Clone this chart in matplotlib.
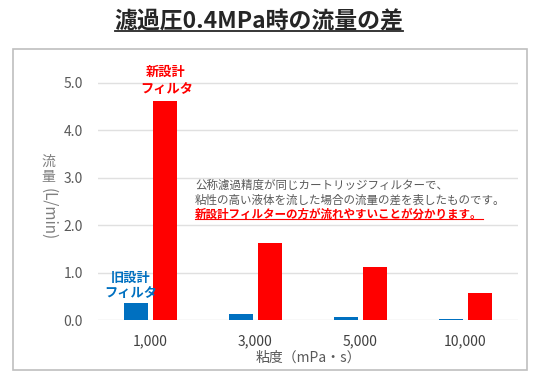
import matplotlib
matplotlib.use("Agg")
import matplotlib.pyplot as plt
from matplotlib.patches import Rectangle
from matplotlib.lines import Line2D
import numpy as np

plt.rcParams['font.family'] = ['Noto Sans CJK JP', 'DejaVu Sans']

categories = ["1,000", "3,000", "5,000", "10,000"]
old_filter = [0.35, 0.13, 0.06, 0.03]
new_filter = [4.61, 1.62, 1.12, 0.57]
yticks = [0.0, 1.0, 2.0, 3.0, 4.0, 5.0]

blue = "#0070C0"
red = "#FF0000"
gray = "#595959"

W, H = 544, 387
fig = plt.figure(figsize=(W / 100, H / 100), dpi=100)


def fx(px):
    return px / W


def fy(py):
    return 1 - py / H


# outer frame
fig.patches.append(Rectangle((fx(13), fy(370)), fx(527) - fx(13), fy(49) - fy(370),
                             transform=fig.transFigure, fill=False,
                             edgecolor="#BFBFBF", lw=1.2))

ax = fig.add_axes([fx(98), fy(320), fx(518) - fx(98), fy(59) - fy(320)])
x = np.arange(len(categories))
w = 0.23
ax.bar(x - 0.135, old_filter, w, color=blue, zorder=3)
ax.bar(x + 0.14, new_filter, w, color=red, zorder=3)

ax.set_xlim(-0.5, 3.5)
ax.set_ylim(0, 5.5)
ax.set_yticks(yticks)
ax.set_yticklabels([f"{v:.1f}" for v in yticks], color=gray, fontsize=10)
ax.set_xticks(x)
ax.set_xticklabels(categories, color="#404040", fontsize=10)
ax.tick_params(length=0)
ax.tick_params(axis="y", pad=11)
ax.tick_params(axis="x", pad=10)
ax.grid(axis="y", color="#E0E0E0", lw=1, zorder=0)
for s in ax.spines.values():
    s.set_visible(False)

# labels
fig.text(fx(308), fy(358), "粘度（mPa・s）", ha="center", va="center", color=gray, fontsize=10)
fig.text(fx(48), fy(162), "流", ha="center", va="center", color="#7F7F7F", fontsize=10)
fig.text(fx(48), fy(177), "量", ha="center", va="center", color="#7F7F7F", fontsize=10)
fig.text(fx(48), fy(214), "(L/min)", ha="center", va="center", color="#7F7F7F", fontsize=11, rotation=270)

ax.text(x[0] + 0.14, 5.22, "新設計", ha="center", va="center", color=red, fontsize=9.5, fontweight="bold")
ax.text(x[0] + 0.155, 4.86, "フィルタ", ha="center", va="center", color=red, fontsize=9.5, fontweight="bold")
ax.text(x[0] - 0.19, 0.89, "旧設計", ha="center", va="center", color=blue, fontsize=9.5, fontweight="bold")
ax.text(x[0] - 0.19, 0.57, "フィルタ", ha="center", va="center", color=blue, fontsize=9.5, fontweight="bold")

fig.text(fx(195), fy(185), "公称濾過精度が同じカートリッジフィルターで、", ha="left", va="center", color=gray, fontsize=8.3)
fig.text(fx(195), fy(200), "粘性の高い液体を流した場合の流量の差を表したものです。", ha="left", va="center", color=gray, fontsize=8.3)
note = fig.text(fx(195), fy(214), "新設計フィルターの方が流れやすいことが分かります。", ha="left", va="center",
                color=red, fontsize=8.3, fontweight="bold")

title = fig.text(fx(259), fy(22), "濾過圧0.4MPa時の流量の差", ha="center", va="center",
                 color="#262626", fontsize=16.5, fontweight="bold")

# underlines
fig.canvas.draw()
r = fig.canvas.get_renderer()
for t, off, lw in [(title, 2, 1.3), (note, 1, 0.8)]:
    bb = t.get_window_extent(r).transformed(fig.transFigure.inverted())
    fig.lines.append(Line2D([bb.x0, bb.x1], [bb.y0 + off / H, bb.y0 + off / H],
                            transform=fig.transFigure, color=t.get_color(), lw=lw))

fig.savefig("out.png", dpi=100)
